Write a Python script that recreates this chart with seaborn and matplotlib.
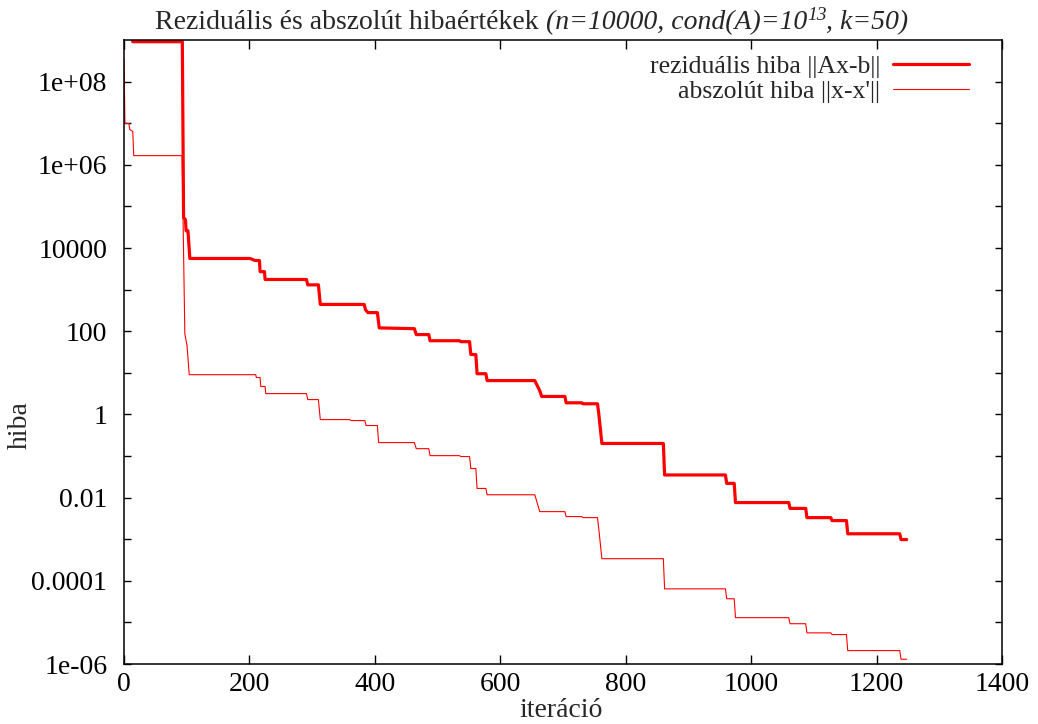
import numpy as np
import pandas as pd
import matplotlib
matplotlib.use("Agg")
import matplotlib.pyplot as plt
from matplotlib.ticker import FixedLocator, NullFormatter
import seaborn as sns

# Residual error ||Ax-b|| per iteration (breakpoints of the step curve)
resid_iter = [0, 13, 14, 93, 95, 98, 99, 102, 105, 201, 209, 216, 217, 224, 225, 291,
              293, 310, 313, 360, 383, 385, 389, 404, 407, 463, 466, 486, 488, 535,
              537, 551, 553, 561, 563, 577, 579, 655, 663, 666, 703, 705, 730, 732,
              755, 757, 762, 860, 862, 959, 961, 973, 975, 1060, 1062, 1087, 1089,
              1127, 1129, 1152, 1154, 1237, 1239, 1248]
resid_val = [2.5e9, 2.5e9, 9.1e8, 9.1e8, 5.4e4, 4.8e4, 2.6e4, 2.6e4, 5.6e3, 5.6e3, 5.0e3,
             5.0e3, 2.7e3, 2.7e3, 1.75e3, 1.75e3, 1.3e3, 1.3e3, 440, 440, 440, 330, 280,
             280, 120, 115, 83, 83, 59, 59, 56, 56, 27.5, 27.5, 9.5, 9.5, 6.5, 6.5, 3.7,
             2.7, 2.7, 1.9, 1.9, 1.8, 1.8, 1.05, 0.20, 0.20, 0.035, 0.035, 0.022, 0.022,
             0.0076, 0.0076, 0.0055, 0.0055, 0.0033, 0.0033, 0.0028, 0.0028, 0.00135,
             0.00135, 0.00098, 0.00098]

# Absolute error ||x-x'|| per iteration
abs_iter = [0, 1.5, 8, 9, 14, 15.5, 92.6, 97, 100.5, 104, 210, 211, 217, 218, 225, 226,
            291, 293, 310, 313, 360, 362, 384, 386, 404, 406, 463, 466, 486, 488, 535,
            537, 551, 553, 561, 563, 577, 579, 655, 663, 703, 705, 730, 732, 755, 757,
            762, 860, 862, 959, 961, 973, 975, 1060, 1062, 1087, 1089, 1127, 1129, 1152,
            1154, 1237, 1239, 1248]
abs_val = [3.5e8, 1.0e7, 9.8e6, 7.1e6, 6.3e6, 1.66e6, 1.66e6, 87, 45, 9.0, 9.0, 7.7, 7.7,
           4.7, 4.7, 3.16, 3.16, 2.27, 2.27, 0.75, 0.75, 0.71, 0.71, 0.54, 0.54, 0.21,
           0.21, 0.15, 0.15, 0.102, 0.102, 0.097, 0.097, 0.050, 0.050, 0.0166, 0.0166,
           0.0117, 0.0117, 0.0046, 0.0046, 0.0035, 0.0035, 0.0033, 0.0033, 0.0018,
           0.00034, 0.00034, 6.4e-5, 6.4e-5, 3.7e-5, 3.7e-5, 1.3e-5, 1.3e-5, 9.3e-6,
           9.3e-6, 5.6e-6, 5.6e-6, 5.1e-6, 5.1e-6, 2.1e-6, 2.1e-6, 1.3e-6, 1.3e-6]

x_ticks = [0, 200, 400, 600, 800, 1000, 1200, 1400]
y_ticks = [1e-6, 1e-4, 1e-2, 1, 1e2, 1e4, 1e6, 1e8]
y_tick_labels = ["1e-06", "0.0001", "0.01", "1", "100", "10000", "1e+06", "1e+08"]
y_minor = [1e-5, 1e-3, 1e-1, 1e1, 1e3, 1e5, 1e7]

label_resid = "reziduális hiba ||Ax-b||"
label_abs = "abszolút hiba ||x-x'||"

sns.set_style("white")
plt.rcParams["font.family"] = ["Liberation Serif", "DejaVu Serif"]

FS = 20
FS_LEG = 18.5

fig = plt.figure(figsize=(10.38, 7.24), dpi=100)
ax = fig.add_axes([124 / 1038, 1 - 664 / 724, 878 / 1038, 624 / 724])

df_r = pd.DataFrame({"iter": resid_iter, "val": resid_val})
df_a = pd.DataFrame({"iter": abs_iter, "val": abs_val})

sns.lineplot(data=df_r, x="iter", y="val", ax=ax, color="#ff0000", lw=2.3,
             estimator=None, sort=False, label=label_resid)
sns.lineplot(data=df_a, x="iter", y="val", ax=ax, color="#ff0000", lw=0.8,
             estimator=None, sort=False, label=label_abs)

ax.set_yscale("log")
ax.set_xlim(0, 1400)
ax.set_ylim(1e-6, 1e9)

ax.xaxis.set_major_locator(FixedLocator(x_ticks))
ax.set_xticklabels([str(t) for t in x_ticks])
ax.yaxis.set_major_locator(FixedLocator(y_ticks))
ax.set_yticklabels(y_tick_labels)
ax.yaxis.set_minor_locator(FixedLocator(y_minor))
ax.yaxis.set_minor_formatter(NullFormatter())

for s in ax.spines.values():
    s.set_visible(True)
    s.set_color("black")
    s.set_linewidth(1.1)

ax.tick_params(axis="x", which="major", direction="in", length=6.5, width=1.0,
               top=True, bottom=True, labelsize=FS, pad=6, colors="black")
ax.tick_params(axis="y", which="both", direction="in", length=5, width=1.0,
               left=True, right=True, labelsize=FS, pad=12, colors="black")

ax.set_xlabel("iteráció", fontsize=FS)
ax.set_ylabel("hiba", fontsize=FS)
ax.xaxis.set_label_coords(0.498, -0.055)
ax.yaxis.set_label_coords(-0.104, 0.383)

leg = ax.legend(loc="upper right", bbox_to_anchor=(0.9624, 0.976), frameon=False,
                markerfirst=False, fontsize=FS_LEG, handlelength=2.96,
                handletextpad=0.5, labelspacing=0.09, borderaxespad=0, borderpad=0)

# Title: upright part, italic part and a superscript exponent, chained together
t1 = fig.text(155 / 1038, 1 - 35 / 724, "Reziduális és abszolút hibaértékek ",
              fontsize=FS, ha="left", va="bottom")
t2 = ax.annotate("(n=10000, cond(A)=10", xy=(1, 0), xycoords=t1, fontsize=FS,
                 style="italic", ha="left", va="bottom", annotation_clip=False)
t3 = ax.annotate("13", xy=(1, 0.42), xycoords=t2, fontsize=FS * 0.7,
                 style="italic", ha="left", va="bottom", annotation_clip=False)
fig.canvas.draw()
bb2 = t2.get_window_extent()
bb3 = t3.get_window_extent()
ax.annotate(", k=50)", xy=(bb3.x1, bb2.y0), xycoords="figure pixels",
            fontsize=FS, style="italic", ha="left", va="bottom",
            annotation_clip=False)

fig.savefig("out.png", dpi=100)
